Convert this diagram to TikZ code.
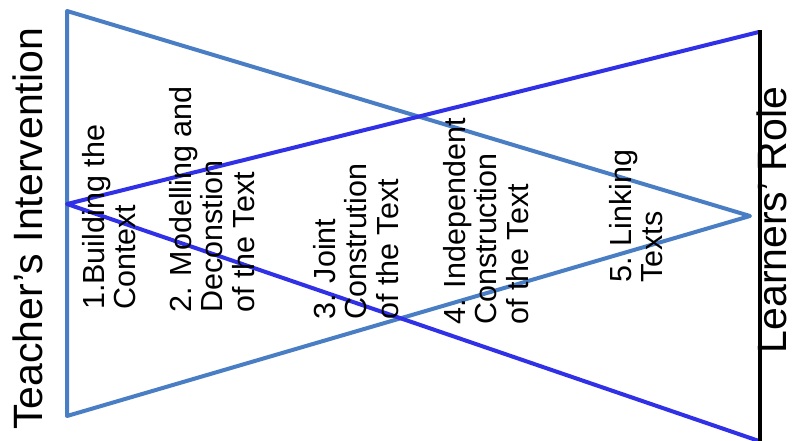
\documentclass[tikz,border=0pt]{standalone}
\usepackage{fontspec}
\setmainfont{Liberation Sans}
\usetikzlibrary{positioning}
\definecolor{paleblue}{HTML}{4A7EC4}
\definecolor{deepblue}{HTML}{3030E6}

\begin{document}
\begin{tikzpicture}[x=1pt, y=-1pt,
    stage/.style={rotate=90, anchor=west, align=left, inner sep=0pt, font=\fontsize{30.5}{31.5}\selectfont},
    side/.style={rotate=90, anchor=base, inner sep=0pt, font=\fontsize{41}{45}\selectfont}]
    \useasboundingbox (0,0) rectangle (793,441);
    % teacher triangle
    \coordinate (tTop) at (67,11);
    \coordinate (tBot) at (67,416);
    \coordinate (tTip) at (750,216);
    % learner triangle
    \coordinate (lTip) at (67,204);
    \coordinate (lTop) at (759,32);
    \coordinate (lBot) at (759,441);
    \coordinate (axTop) at (760,30);
    \coordinate (axBot) at (760,441);
    \draw[paleblue, line width=4pt, line join=round] (tTop) -- (tTip) -- (tBot) -- cycle;
    \draw[deepblue, line width=4pt, line join=round] (lTop) -- (lTip) -- (lBot);
    \draw[line width=4pt] (axTop) -- (axBot);
    \node[side] (teacher) at (42,229) {Teacher’s Intervention};
    \node[side] (learner) at (786,220) {Learners’ Role};
    \node[stage] (s1) at (109,310) {1.Building the\\Context};
    \node[stage] (s2) at (212,313) {2. Modelling and\\Deconstion\\of the Text};
    \node[stage] (s3) at (356,320) {3. Joint\\Constrution\\of the Text};
    \node[stage] (s4) at (486,325) {4. Independent\\Construction\\of the Text};
    \node[stage] (s5) at (636,283) {5. Linking\\Texts};
  \end{tikzpicture}
\end{document}
